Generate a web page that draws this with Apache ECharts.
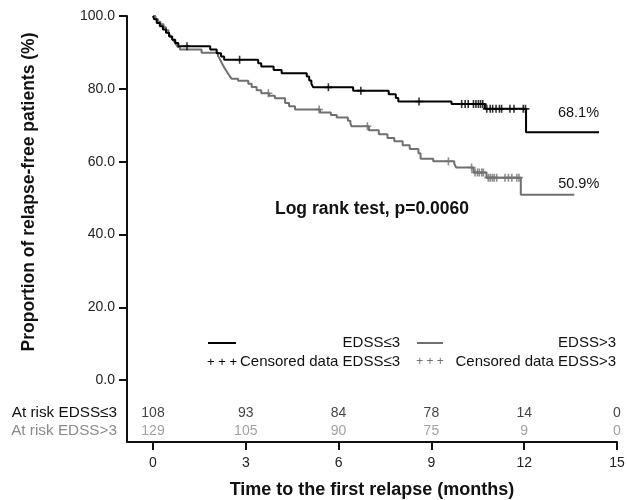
<!DOCTYPE html>
<html>
<head>
<meta charset="utf-8">
<script src="https://cdn.jsdelivr.net/npm/echarts@6/dist/echarts.min.js"></script>
<style>
  html, body { margin: 0; padding: 0; background: #fff; }
  #chart { width: 627px; height: 500px; }
</style>
</head>
<body>
<div id="chart"></div>
<script>
// Kaplan-Meier steps [month, % relapse-free], value holds until next point
const curveLow = [
    [0, 100], [0.04, 99.1], [0.12, 98.1], [0.22, 97.2], [0.32, 96.3], [0.42, 95.4],
    [0.52, 94.4], [0.62, 93.5], [0.72, 92.6], [0.82, 91.7], [1.85, 90.8], [2.06, 89.8],
    [2.2, 88.9], [2.3, 88.0], [3.4, 87.0], [3.5, 86.1], [3.9, 85.2], [4.16, 84.3],
    [4.97, 83.4], [5.05, 82.3], [5.12, 81.4], [5.18, 80.4], [6.47, 79.5], [7.62, 78.5],
    [7.85, 77.5], [7.93, 76.5], [9.65, 75.8], [10.73, 74.5], [12.06, 68.1], [14.42, 68.1]
];
const curveHigh = [
    [0, 100], [0.08, 99.2], [0.16, 98.4], [0.24, 97.7], [0.34, 96.9], [0.42, 96.1],
    [0.5, 95.3], [0.56, 94.6], [0.62, 93.8], [0.68, 93.0], [0.74, 92.2], [0.8, 91.5],
    [0.87, 90.8], [1.57, 89.9], [2.1, 89.1], [2.15, 88.3], [2.2, 87.5], [2.25, 86.7],
    [2.3, 85.9], [2.36, 85.1], [2.42, 84.3], [2.48, 83.5], [2.54, 82.8], [2.75, 82.2],
    [3.08, 81.4], [3.19, 80.5], [3.35, 79.6], [3.5, 78.8], [3.75, 78.1], [3.94, 77.4],
    [4.27, 76.1], [4.4, 75.2], [4.59, 74.3], [5.4, 73.5], [5.75, 72.8], [5.94, 72.1],
    [6.3, 71.2], [6.38, 70.6], [6.42, 69.7], [6.98, 68.6], [7.3, 67.5], [7.58, 66.5],
    [7.8, 65.6], [8.07, 64.5], [8.3, 63.5], [8.58, 62.3], [8.65, 60.8], [9.06, 60.1],
    [9.74, 59.4], [9.8, 58.4], [10.36, 57.0], [10.78, 55.6], [11.89, 50.9], [13.62, 50.9]
];

// censored observations
const censorLow = [
    [1.1, 91.7], [2.8, 88.0], [5.67, 80.4], [6.72, 79.5], [8.6, 76.5],
    [9.98, 75.8], [10.09, 75.8], [10.19, 75.8], [10.36, 75.8], [10.44, 75.8], [10.52, 75.8],
    [10.59, 75.8], [10.66, 75.8], [10.79, 74.5], [10.9, 74.5], [10.98, 74.5], [11.09, 74.5],
    [11.2, 74.5], [11.27, 74.5], [11.54, 74.5], [11.67, 74.5], [11.97, 74.5], [12.04, 74.5]
];
const censorHigh = [
    [3.73, 78.8], [5.37, 74.3], [6.93, 69.7], [9.55, 60.1], [10.3, 58.4],
    [10.41, 57.0], [10.49, 57.0], [10.55, 57.0], [10.63, 57.0], [10.68, 57.0],
    [10.84, 55.6], [10.9, 55.6], [10.97, 55.6], [11.03, 55.6], [11.11, 55.6],
    [11.38, 55.6], [11.49, 55.6], [11.6, 55.6], [11.76, 55.6], [11.83, 55.6]
];

// numbers at risk
const riskMonths = [0, 3, 6, 9, 12, 15];
const riskLow = [108, 93, 84, 78, 14, 0];
const riskHigh = [129, 105, 90, 75, 9, 0];

const yTicks = [0, 20, 40, 60, 80, 100];
const xTicks = [0, 3, 6, 9, 12, 15];

const FONT = '"Liberation Sans", Arial, sans-serif';
const BLACK = '#000000';
const GRAY = '#707070';
const GRAY_TEXT = '#8a8a8a';
const PLUS = 'path://M4,0H6V4H10V6H6V10H4V6H0V4H4Z';

const chart = echarts.init(document.getElementById('chart'), null, { renderer: 'canvas' });

const option = {
    animation: false,
    backgroundColor: '#ffffff',
    textStyle: { fontFamily: FONT },
    grid: { left: 127, right: 10, top: 16, bottom: 58, outerBoundsMode: 'none' },
    xAxis: {
        type: 'value',
        min: -0.84,
        max: 15,
        name: 'Time to the first relapse (months)',
        nameLocation: 'middle',
        nameGap: 39,
        nameTextStyle: { fontSize: 18, fontWeight: 'bold', color: '#111', fontFamily: FONT },
        axisLine: { show: true, onZero: false, lineStyle: { color: '#111', width: 2 } },
        axisTick: { show: true, customValues: xTicks, length: 8, lineStyle: { color: '#111', width: 2 } },
        axisLabel: { customValues: xTicks, margin: 14, fontSize: 14, color: '#222', fontFamily: FONT },
        splitLine: { show: false }
    },
    yAxis: {
        type: 'value',
        min: -17,
        max: 100,
        axisLine: { show: true, onZero: false, lineStyle: { color: '#111', width: 2 } },
        axisTick: { show: true, customValues: yTicks, length: 8, lineStyle: { color: '#111', width: 2 } },
        axisLabel: {
            customValues: yTicks, margin: 12, fontSize: 14, color: '#222', fontFamily: FONT,
            formatter: v => v.toFixed(1)
        },
        splitLine: { show: false }
    },
    graphic: [
        {
            type: 'text', x: 29, y: 192, rotation: Math.PI / 2,
            style: {
                text: 'Proportion of relapse-free patients (%)', fill: '#111',
                font: 'bold 17.5px ' + FONT, textAlign: 'center', textVerticalAlign: 'middle'
            }
        },
        {
            type: 'text', x: 372, y: 209,
            style: {
                text: 'Log rank test, p=0.0060', fill: '#111',
                font: 'bold 17.5px ' + FONT, textAlign: 'center', textVerticalAlign: 'middle'
            }
        },
        // legend
        { type: 'line', shape: { x1: 208, y1: 343, x2: 236, y2: 343 }, style: { stroke: BLACK, lineWidth: 2 } },
        { type: 'text', x: 400, y: 343, style: { text: 'EDSS≤3', fill: '#111', font: '15px ' + FONT, textAlign: 'right', textVerticalAlign: 'middle' } },
        { type: 'line', shape: { x1: 417, y1: 343, x2: 443, y2: 343 }, style: { stroke: GRAY, lineWidth: 2 } },
        { type: 'text', x: 616, y: 343, style: { text: 'EDSS>3', fill: '#111', font: '15px ' + FONT, textAlign: 'right', textVerticalAlign: 'middle' } },
        { type: 'text', x: 222, y: 362, style: { text: '+ + +', fill: BLACK, font: '13px ' + FONT, textAlign: 'center', textVerticalAlign: 'middle' } },
        { type: 'text', x: 400, y: 362, style: { text: 'Censored data EDSS≤3', fill: '#111', font: '15px ' + FONT, textAlign: 'right', textVerticalAlign: 'middle' } },
        { type: 'text', x: 430, y: 362, style: { text: '+ + +', fill: GRAY, font: '12px ' + FONT, textAlign: 'center', textVerticalAlign: 'middle' } },
        { type: 'text', x: 616, y: 362, style: { text: 'Censored data EDSS>3', fill: '#111', font: '15px ' + FONT, textAlign: 'right', textVerticalAlign: 'middle' } },
        // at-risk row titles
        { type: 'text', x: 117, y: 413, style: { text: 'At risk EDSS≤3', fill: '#111', font: '15.3px ' + FONT, textAlign: 'right', textVerticalAlign: 'middle' } },
        { type: 'text', x: 117, y: 431, style: { text: 'At risk EDSS>3', fill: GRAY_TEXT, font: '15.3px ' + FONT, textAlign: 'right', textVerticalAlign: 'middle' } }
    ],
    series: [
        {
            name: 'EDSS≤3',
            type: 'line',
            step: 'end',
            showSymbol: false,
            lineStyle: { color: BLACK, width: 2 },
            data: curveLow,
            endLabel: {
                show: true, distance: 0, align: 'right', offset: [0, -19],
                fontSize: 14.5, color: '#111', fontFamily: FONT,
                formatter: p => p.value[1].toFixed(1) + '%'
            },
            z: 3
        },
        {
            name: 'EDSS>3',
            type: 'line',
            step: 'end',
            showSymbol: false,
            lineStyle: { color: GRAY, width: 2 },
            data: curveHigh,
            endLabel: {
                show: true, distance: 0, align: 'right', offset: [25, -11],
                fontSize: 14.5, color: '#111', fontFamily: FONT,
                formatter: p => p.value[1].toFixed(1) + '%'
            },
            z: 2
        },
        {
            name: 'Censored data EDSS≤3',
            type: 'scatter',
            symbol: PLUS,
            symbolSize: 8,
            itemStyle: { color: BLACK },
            data: censorLow,
            z: 4
        },
        {
            name: 'Censored data EDSS>3',
            type: 'scatter',
            symbol: PLUS,
            symbolSize: 8,
            itemStyle: { color: GRAY },
            data: censorHigh,
            z: 3
        },
        {
            name: 'At risk EDSS≤3',
            type: 'scatter',
            symbolSize: 0,
            data: riskMonths.map((m, i) => [m, -9.2, riskLow[i]]),
            label: {
                show: true, position: 'inside', fontSize: 14, color: '#111', fontFamily: FONT,
                formatter: p => String(p.data[2])
            }
        },
        {
            name: 'At risk EDSS>3',
            type: 'scatter',
            symbolSize: 0,
            data: riskMonths.map((m, i) => [m, -14.1, riskHigh[i]]),
            label: {
                show: true, position: 'inside', fontSize: 14, color: GRAY_TEXT, fontFamily: FONT,
                formatter: p => String(p.data[2])
            }
        }
    ]
};

chart.setOption(option);
window.addEventListener('resize', () => chart.resize());
</script>
</body>
</html>
